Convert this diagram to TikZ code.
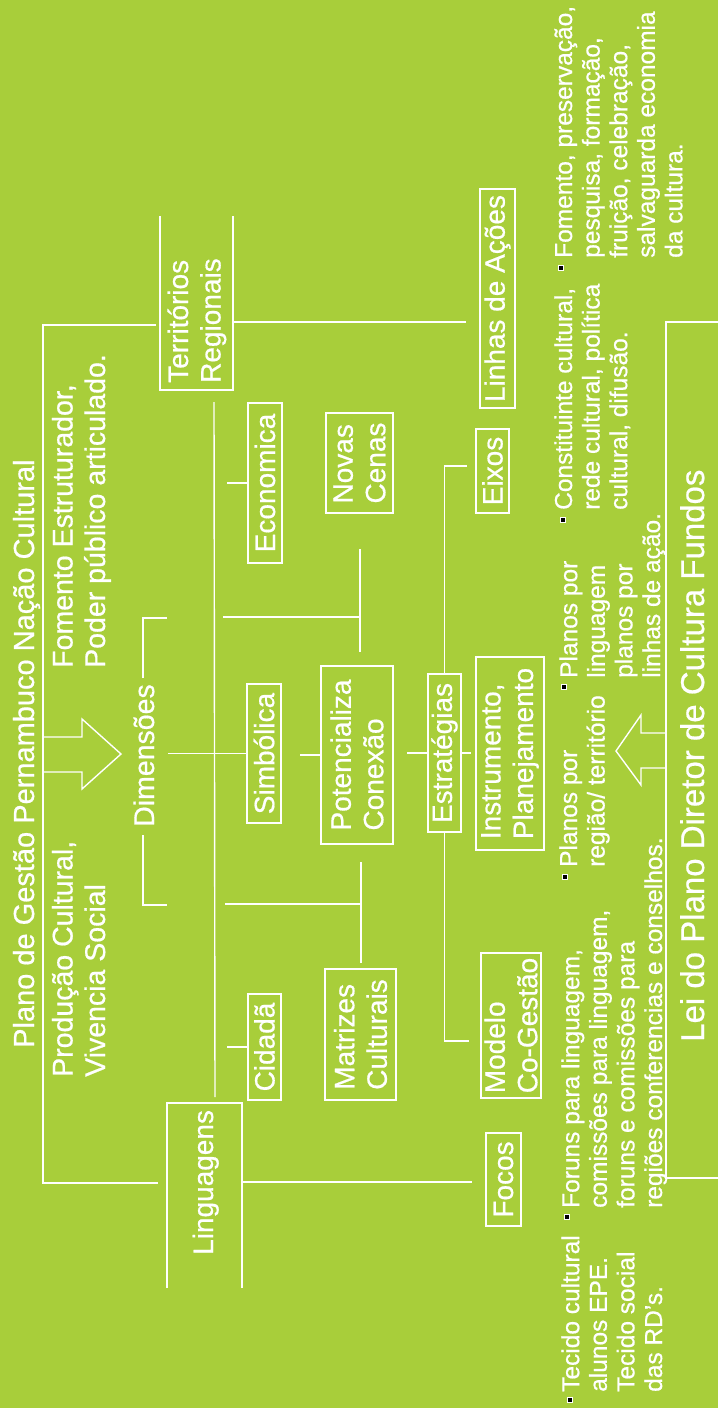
\documentclass[tikz,border=0pt]{standalone}
\usepackage{fontspec}
\setmainfont{Liberation Sans}[FakeBold=0.6]
\usetikzlibrary{positioning}
\definecolor{folha}{HTML}{A8CE3A}

\tikzset{
  linha/.style={draw=white, line width=1.4pt},
  caixa/.style={draw=white, line width=1.4pt, rotate=90, inner sep=0pt, align=left,
    text=white, font=\fontsize{28}{32.5}\selectfont},
  rotulo/.style={rotate=90, inner sep=0pt, align=left, anchor=base west,
    text=white, font=\fontsize{28.5}{32.5}\selectfont},
  nota/.style={rotate=90, inner sep=0pt, align=left, anchor=base west,
    text=white, font=\fontsize{24.5}{27.6}\selectfont},
  ponto/.style={draw=white, fill=black, line width=0.6pt, minimum size=5pt, inner sep=0pt},
}

\begin{document}
\begin{tikzpicture}[x=1pt,y=-1pt]
        \fill[folha] (0,0) rectangle (718,1408);
        \useasboundingbox (0,0) rectangle (718,1408);

        % free ends of the lines
        \coordinate (TA) at (156,325);
        \coordinate (TB) at (43,325);
        \coordinate (TC) at (43,1183);
        \coordinate (TD) at (158,1183);
        \coordinate (RA) at (234,322);
        \coordinate (RB) at (466,322);
        \coordinate (KA) at (214,402);
        \coordinate (KB) at (215,1097);
        \coordinate (DA) at (168,753.5);
        \coordinate (DB) at (167,618);
        \coordinate (DC) at (143,618);
        \coordinate (DD) at (143,678);
        \coordinate (DE) at (143,835);
        \coordinate (DF) at (143,905);
        \coordinate (DG) at (167,905);
        \coordinate (EA) at (227,483);
        \coordinate (NA) at (223,617);
        \coordinate (NB) at (360,617);
        \coordinate (NC) at (360,549);
        \coordinate (ND) at (360,652);
        \coordinate (MA) at (225,904);
        \coordinate (MB) at (361,904);
        \coordinate (MC) at (361,862);
        \coordinate (MD) at (361,963);
        \coordinate (PA) at (300,755);
        \coordinate (SA) at (407,753);
        \coordinate (SB) at (471,753);
        \coordinate (SC) at (467,466);
        \coordinate (SD) at (469,1041);
        \coordinate (CA) at (227,1047);
        \coordinate (LA) at (242,1182);
        \coordinate (LB) at (472,1182);
        \coordinate (FA) at (718,322);
        \coordinate (FB) at (666,322);
        \coordinate (FC) at (666,1178);
        \coordinate (FD) at (718,1178);

        % texts (base west = last line)
        \node[rotulo, font=\fontsize{29}{33}\selectfont] (titulo) at (34,1048)
          {Plano de Gestão Pernambuco Nação Cultural};
        \node[rotulo] (producao) at (105,1077) {Produção Cultural,\\Vivencia Social};
        \node[rotulo] (fomento) at (105,668) {Fomento Estruturador,\\Poder público articulado.};
        \node[rotulo] (dimensoes) at (154,827) {Dimensões};
        \node[rotulo, font=\fontsize{28}{32.5}\selectfont] (territorios) at (220.5,383)
          {Territórios\\Regionais};
        \node[rotulo, font=\fontsize{28}{32.5}\selectfont] (linguagens) at (213,1255) {Linguagens};
        \node[rotulo, font=\fontsize{33}{36}\selectfont] (lei) at (704,1042)
          {Lei do Plano Diretor de Cultura Fundos};

        % boxes
        \node[caixa, minimum width=160pt, minimum height=34pt] (econ) at (265,483) {Economica};
        \node[caixa, minimum width=100pt, minimum height=67pt] (novas) at (359.5,463) {Novas\\Cenas};
        \node[caixa, minimum width=139pt, minimum height=34pt] (simb) at (264,753.5) {Simbólica};
        \node[caixa, minimum width=178pt, minimum height=72pt] (pot) at (357,755) {Potencializa\\Conexão};
        \node[caixa, minimum width=158pt, minimum height=33pt] (estr) at (444.5,753) {Estratégias};
        \node[caixa, minimum width=193pt, minimum height=68pt] (instr) at (510,753.5) {Instrumento,\\Planejamento};
        \node[caixa, minimum width=84pt, minimum height=33pt] (eixos) at (492.5,471) {Eixos};
        \node[caixa, minimum width=219pt, minimum height=35pt] (linhas) at (497.5,298.5) {Linhas de Ações};
        \node[caixa, minimum width=106pt, minimum height=33pt] (cid) at (264.5,1047) {Cidadã};
        \node[caixa, minimum width=131pt, minimum height=71pt] (matr) at (360.5,1034.5) {Matrizes\\Culturais};
        \node[caixa, minimum width=145pt, minimum height=60pt] (modelo) at (511,1025.5) {Modelo\\Co-Gestão};
        \node[caixa, minimum width=93pt, minimum height=35pt] (focos) at (503.5,1179.5) {Focos};

        % notes with bullets
        \node[nota] (notaFomento) at (682.4,258)
          {Fomento, preservação,\\pesquisa, formação,\\fruição, celebração,\\salvaguarda economia\\da cultura.};
        \node[nota] (notaConst) at (627.2,510)
          {Constituinte cultural,\\rede cultural, política\\cultural, difusão.};
        \node[nota] (notaLing) at (660,678) {Planos por\\linguagem\\planos por\\linhas de ação.};
        \node[nota] (notaReg) at (604.6,867) {Planos por\\região/ território};
        \node[nota] (notaForum) at (662,1208)
          {Foruns para linguagem,\\comissões para linguagem,\\foruns e comissões para\\regiões conferencias e conselhos.};
        \node[nota] (notaTecido) at (662,1392) {Tecido cultural\\alunos EPE.\\Tecido social\\das RD’s.};
        \node[ponto] (pA) at (561,268) {};
        \node[ponto] (pB) at (563,520) {};
        \node[ponto] (pC) at (564,687) {};
        \node[ponto] (pD) at (565,877) {};
        \node[ponto] (pE) at (567,1217) {};
        \node[ponto] (pF) at (570,1400) {};

        % open boxes
        \draw[linha] (160,216) -- (160,390) -- (233,390) -- (233,216);
        \draw[linha] (167,1288) -- (167,1103) -- (242,1103) -- (242,1288);

        % arrows
        \draw[linha] (43,737) -- (82,737) -- (82,719) -- (121,754)
                  -- (82,789) -- (82,772) -- (43,772);
        \draw[linha] (666,733) -- (641,733) -- (641,715) -- (616,751)
                  -- (641,785) -- (641,768) -- (666,768);

        % connectors
        \draw[linha] (TA) -- (TB) -- (TC) -- (TD);
        \draw[linha] (RA) -- (RB);
        \draw[linha] (KA) -- (KB);
        \draw[linha] (DA) -- (simb.north);
        \draw[linha] (DB) -- (DC) -- (DD);
        \draw[linha] (DE) -- (DF) -- (DG);
        \draw[linha] (EA) -- (econ.north);
        \draw[linha] (NA) -- (NB);
        \draw[linha] (NC) -- (ND);
        \draw[linha] (MA) -- (MB);
        \draw[linha] (MC) -- (MD);
        \draw[linha] (PA) -- (pot.north);
        \draw[linha] (SA) -- (estr.north);
        \draw[linha] (estr.south) -- (SB);
        \draw[linha] (estr.east) |- (SC);
        \draw[linha] (estr.west) |- (SD);
        \draw[linha] (CA) -- (cid.north);
        \draw[linha] (LA) -- (LB);
        \draw[linha] (FA) -- (FB) -- (FC) -- (FD);
    \end{tikzpicture}
\end{document}
